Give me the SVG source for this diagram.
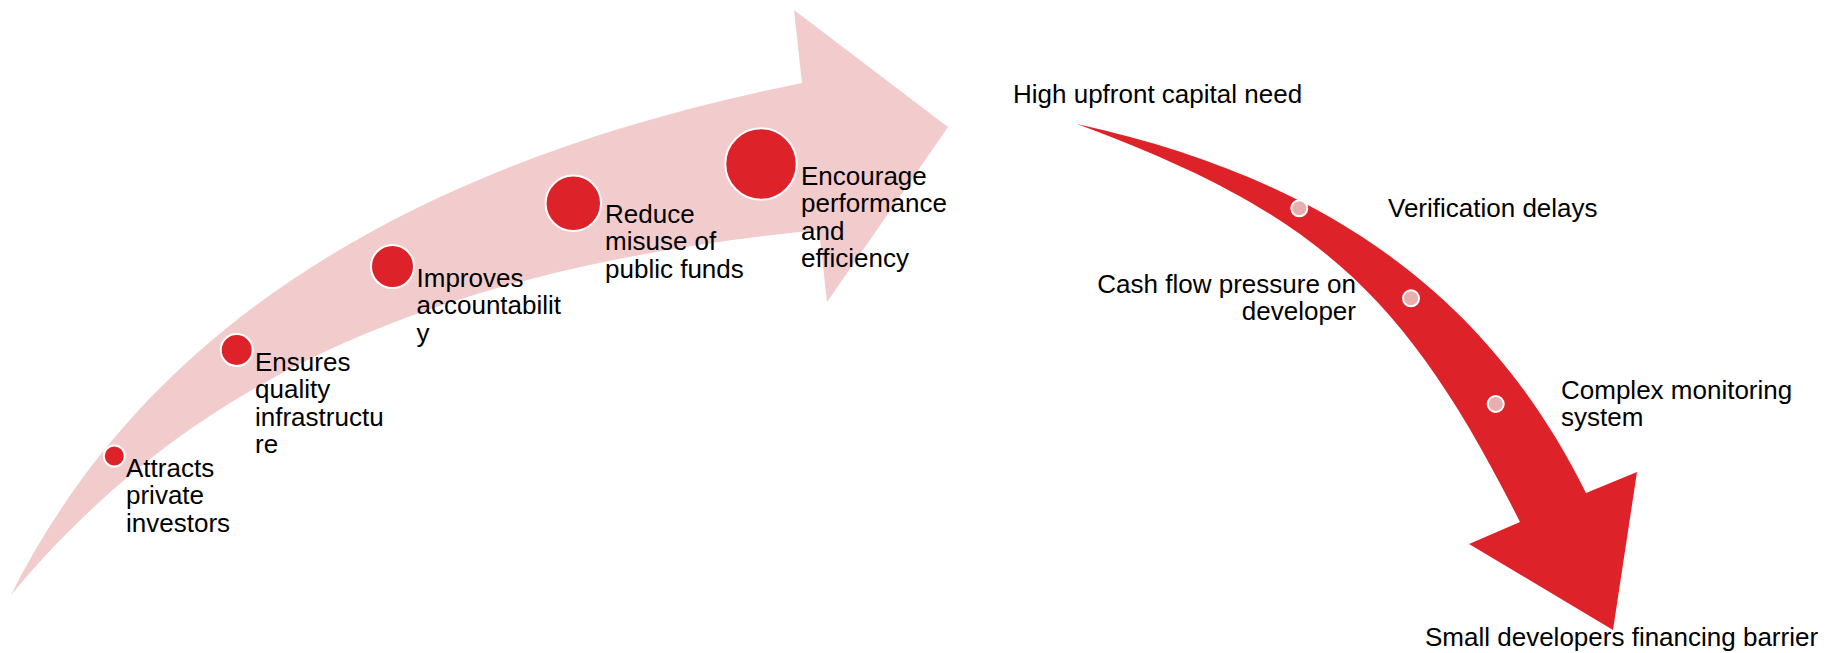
<svg xmlns="http://www.w3.org/2000/svg" width="1840" height="653" viewBox="0 0 1840 653">
  <style>
    .lbl { font-family: "Liberation Sans", Arial, sans-serif; font-size: 26px; fill: #000000; }
    .big { fill: #DD2329; stroke: #FFFFFF; stroke-width: 2; }
    .small { fill: #E9AEAE; stroke: #FFFFFF; stroke-width: 2; }
  </style>
  <rect x="0" y="0" width="1840" height="653" fill="#FFFFFF"/>

  <g id="connectors">
    <path id="benefits-arrow" fill="#F2CBCC" d="M 11,595 C 143,331.7 404,162.7 802,83 L 794,10 L 948,127 L 827,302 L 819,230 C 434,268.5 191.6,378 11,595 Z"/>
    <path id="challenges-arrow" fill="#DD2329" d="M 1077,124 C 1332.5,180 1490,300 1586,493 L 1637,472 L 1613,630 L 1469,544 L 1520,522 C 1404.8,292.4 1316,212.8 1077,124 Z"/>
  </g>

  <g id="node-attracts">
    <circle class="big" cx="114.3" cy="456" r="10.5"/>
    <text class="lbl" x="126" y="477"><tspan x="126">Attracts</tspan><tspan x="126" dy="27.4">private</tspan><tspan x="126" dy="27.4">investors</tspan></text>
  </g>
  <g id="node-ensures">
    <circle class="big" cx="236.7" cy="350" r="16"/>
    <text class="lbl" x="255" y="371"><tspan x="255">Ensures</tspan><tspan x="255" dy="27.4">quality</tspan><tspan x="255" dy="27.4">infrastructu</tspan><tspan x="255" dy="27.4">re</tspan></text>
  </g>
  <g id="node-improves">
    <circle class="big" cx="392.5" cy="266.5" r="21.5"/>
    <text class="lbl" x="416.5" y="287"><tspan x="416.5">Improves</tspan><tspan x="416.5" dy="27.4">accountabilit</tspan><tspan x="416.5" dy="27.4">y</tspan></text>
  </g>
  <g id="node-reduce">
    <circle class="big" cx="573.3" cy="203.3" r="27.7"/>
    <text class="lbl" x="605" y="223"><tspan x="605">Reduce</tspan><tspan x="605" dy="27.4">misuse of</tspan><tspan x="605" dy="27.4">public funds</tspan></text>
  </g>
  <g id="node-encourage">
    <circle class="big" cx="761" cy="164" r="35.7"/>
    <text class="lbl" x="801" y="185"><tspan x="801">Encourage</tspan><tspan x="801" dy="27.4">performance</tspan><tspan x="801" dy="27.4">and</tspan><tspan x="801" dy="27.4">efficiency</tspan></text>
  </g>

  <g id="node-high-upfront">
    <text class="lbl" x="1013" y="103">High upfront capital need</text>
  </g>
  <g id="node-verification">
    <circle class="small" cx="1299.3" cy="208.3" r="8"/>
    <text class="lbl" x="1388" y="217">Verification delays</text>
  </g>
  <g id="node-cashflow">
    <circle class="small" cx="1411" cy="298.3" r="8"/>
    <text class="lbl" text-anchor="end" x="1356" y="292.5"><tspan x="1356">Cash flow pressure on</tspan><tspan x="1356" dy="27">developer</tspan></text>
  </g>
  <g id="node-monitoring">
    <circle class="small" cx="1495.7" cy="404" r="8"/>
    <text class="lbl" x="1561" y="399"><tspan x="1561">Complex monitoring</tspan><tspan x="1561" dy="27">system</tspan></text>
  </g>
  <g id="node-small-developers">
    <text class="lbl" x="1425" y="646">Small developers financing barrier</text>
  </g>
</svg>
